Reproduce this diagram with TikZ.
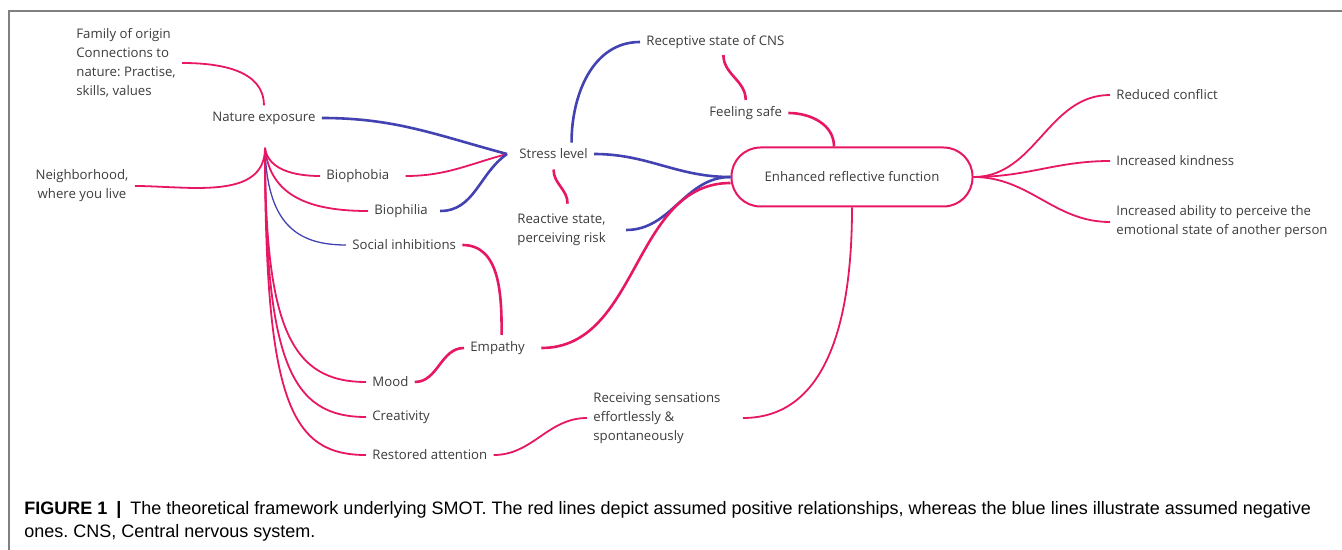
\documentclass[tikz,border=0pt]{standalone}
\usepackage{fontspec}
\setmainfont{Open Sans}
\newfontfamily\capfont{Liberation Sans}
\usetikzlibrary{calc}
\frenchspacing
\definecolor{posred}{RGB}{231,23,99}
\definecolor{negblue}{RGB}{66,66,178}
\definecolor{textgrey}{RGB}{60,60,60}
\definecolor{framegrey}{RGB}{128,128,128}
\tikzstyle{concept}=[inner sep=3pt, text=textgrey, font={\fontsize{6.6}{9.5}\selectfont}]
\tikzstyle{conceptleft}=[concept, align=left]
\tikzstyle{hubbox}=[concept, draw=posred, line width=1pt, rounded corners=14.5pt, minimum width=120.5pt, minimum height=29.5pt]
\tikzstyle{redlink}=[posred, line width=1.3pt]
\tikzstyle{thinred}=[posred, line width=0.9pt]
\tikzstyle{bluelink}=[negblue, line width=1.3pt]
\tikzstyle{thinblue}=[negblue, line width=0.65pt]

\begin{document}
\begin{tikzpicture}[x=0.5pt, y=0.5pt]
  \useasboundingbox (0,0) rectangle (1342,-550);
  \draw[framegrey, line width=0.8pt] (9,-550) -- (9,-11) -- (1342,-11);
  % left side: where nature exposure comes from and what it feeds
  \node[conceptleft, anchor=west] (family) at (70,-63) {Family of origin\\Connections to\\nature: Practise,\\skills, values};
  \node[concept, anchor=west] (natexp) at (206,-118) {Nature exposure};
  \node[concept, align=center] (neigh) at (82,-186) {Neighborhood,\\where you live};
  \node[concept, anchor=west] (phobia) at (320,-176) {Biophobia};
  \node[concept, anchor=west] (philia) at (368,-211) {Biophilia};
  \node[concept, anchor=west] (social) at (346,-245) {Social inhibitions};
  \node[concept, anchor=west] (mood) at (366,-382) {Mood};
  \node[concept, anchor=west] (creat) at (366,-417) {Creativity};
  \node[concept, anchor=west] (restored) at (366,-455) {Restored attention};
  % middle
  \node[concept, anchor=west] (stress) at (513,-154) {Stress level};
  \node[concept, anchor=west] (receptive) at (640,-42) {Receptive state of CNS};
  \node[concept, anchor=west] (safe) at (703,-113) {Feeling safe};
  \node[conceptleft, anchor=west] (reactive) at (511,-230) {Reactive state,\\perceiving risk};
  \node[concept, anchor=west] (empathy) at (464,-348) {Empathy};
  \node[conceptleft, anchor=west] (receiving) at (587,-418) {Receiving sensations\\effortlessly \&\\spontaneously};
  \node[hubbox] (erf) at (852,-177) {Enhanced reflective function};
  % right side
  \node[concept, anchor=west] (conflict) at (1110,-95) {Reduced conflict};
  \node[concept, anchor=west] (kind) at (1110,-161) {Increased kindness};
  \node[conceptleft, anchor=west] (ability) at (1110,-222) {Increased ability to perceive the\\emotional state of another person};

  \coordinate (nehub) at (265,-148);
  \coordinate (slhub) at (507,-154);

  \draw[thinred] (family.east) to[out=0,in=90] (natexp.north);
  \draw[thinred] (neigh.east) to[out=0,in=-90] (nehub);
  \draw[thinred] (nehub) .. controls +(3,-22) and +(-25,0) .. (phobia.west);
  \draw[thinred] (nehub) .. controls +(5,-50) and +(-55,0) .. (philia.west);
  \draw[thinblue] (nehub) .. controls +(2,-75) and +(-50,0) .. (social.west);
  \draw[thinred] (nehub) .. controls +(0,-180) and +(-75,0) .. (mood.west);
  \draw[thinred] (nehub) .. controls +(0,-215) and +(-75,0) .. (creat.west);
  \draw[thinred] (nehub) .. controls +(0,-255) and +(-75,0) .. (restored.west);

  \draw[bluelink] (natexp.east) to[out=0,in=165] (slhub);
  \draw[thinred] ([xshift=5pt]phobia.east) to[out=0,in=195] (slhub);
  \draw[bluelink] ([xshift=3pt]philia.east) to[out=0,in=215] (slhub);

  \draw[bluelink] ([xshift=9pt]stress.north) to[out=90,in=180] (receptive.west);
  \draw[redlink] ([xshift=4pt]receptive.south) to[out=-90,in=90] (safe.north);
  \draw[redlink] (safe.east) to[out=0,in=90] ([xshift=-9pt]erf.north);
  \draw[bluelink] (stress.east) to[out=0,in=180] (erf.west);
  \draw[redlink] ([yshift=-2pt]stress.south) to[out=-90,in=90] ([xshift=3pt,yshift=2pt]reactive.north);
  \draw[bluelink] ([xshift=7pt]reactive.east) to[out=0,in=180] (erf.west);

  \draw[redlink] (social.east) to[out=0,in=90] ([xshift=2pt]empathy.north);
  \draw[redlink] (mood.east) to[out=0,in=180] (empathy.west);
  \draw[redlink] ([xshift=5pt]empathy.east) to[out=0,in=180] ([yshift=-3pt]erf.west);
  \draw[thinred] (erf.south) to[out=-90,in=0] ([xshift=8pt]receiving.east);
  \draw[thinred] (restored.east) to[out=0,in=180] (receiving.west);

  \draw[thinred] (erf.east) to[out=0,in=180] (conflict.west);
  \draw[thinred] (erf.east) to[out=0,in=180] (kind.west);
  \draw[thinred] (erf.east) to[out=0,in=180] (ability.west);

  \node[anchor=north west, align=left, inner sep=0pt, font={\capfont\fontsize{9}{11.5}\selectfont}] (caption) at (24,-501)
    {\textbf{FIGURE 1}\enspace\textbf{|}\enspace The theoretical framework underlying SMOT. The red lines depict assumed positive relationships, whereas the blue lines illustrate assumed negative\\ones. CNS, Central nervous system.};
\end{tikzpicture}
\end{document}
